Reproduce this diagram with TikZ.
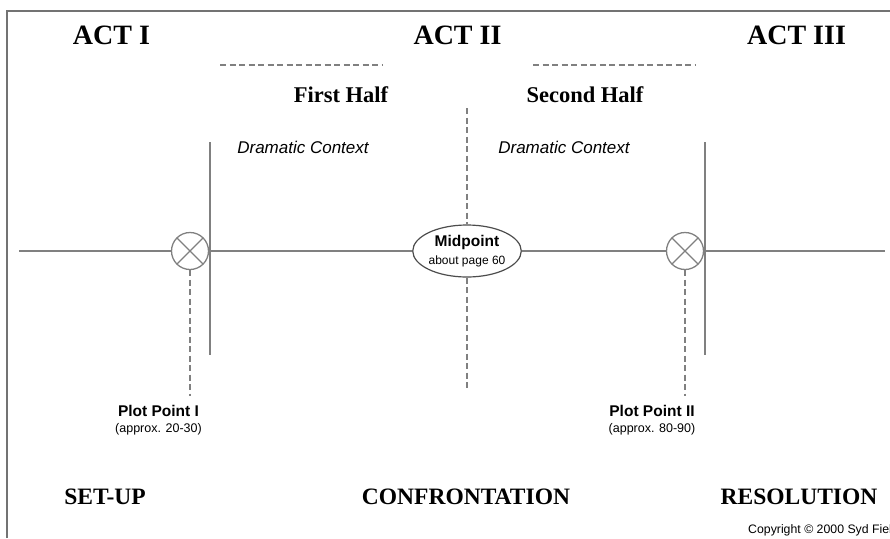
\documentclass[tikz,border=0pt]{standalone}
\usepackage{fontspec}
\setmainfont{Liberation Serif}
\setsansfont{Liberation Sans}
\usetikzlibrary{shapes.geometric,positioning}

\tikzset{
  rule/.style={draw=gray, line width=1.4pt},
  dashline/.style={draw=gray, line width=1.4pt, dash pattern=on 6pt off 3.5pt},
  act/.style={font=\fontsize{28}{30}\selectfont\bfseries},
  part/.style={font=\fontsize{23.5}{26}\selectfont\bfseries},
  half/.style={font=\fontsize{22.5}{25}\selectfont\bfseries},
  context/.style={font=\sffamily\itshape\fontsize{17}{19}\selectfont},
  plotpt/.style={circle, draw=gray, line width=1.3pt, minimum size=37pt, inner sep=0pt, fill=white,
    path picture={\draw[gray, line width=1.3pt]
      (path picture bounding box.north west) -- (path picture bounding box.south east)
      (path picture bounding box.north east) -- (path picture bounding box.south west);}},
  midpt/.style={ellipse, draw=gray!60!black, line width=1.2pt, minimum width=108pt, minimum height=52pt,
    inner sep=0pt, align=center, font=\sffamily\fontsize{15.5}{17}\selectfont},
  pplabel/.style={font=\sffamily\bfseries\fontsize{15.5}{17}\selectfont, inner sep=0pt},
  ppnote/.style={font=\sffamily\fontsize{12.5}{14}\selectfont, inner sep=0pt},
  copynote/.style={font=\sffamily\fontsize{12.3}{14}\selectfont, inner sep=0pt, anchor=west},
}

\begin{document}
\begin{tikzpicture}[x=1pt,y=-1pt]
\useasboundingbox (0,0) rectangle (890,538);
\draw[rule, draw=gray!90!black, line width=1.8pt] (7,538) -- (7,11) -- (890,11); % frame

% act headings
\node[act] (act1) at (111.5,35) {ACT I};
\node[act] (act2) at (457.5,35) {ACT II};
\node[act] (act3) at (796.5,35) {ACT III};

% halves of act II
\coordinate (half1 L) at (220,65);
\coordinate (half1 R) at (382,65);
\coordinate (half2 L) at (533,65);
\coordinate (half2 R) at (695,65);
\draw[dashline, line width=1.2pt] (half1 L) -- (half1 R);
\draw[dashline, line width=1.2pt] (half2 L) -- (half2 R);
\node[half] (half1) at (341,95) {First Half};
\node[half] (half2) at (585,95) {Second Half};
\node[context] (ctx1) at (303,147) {Dramatic Context};
\node[context] (ctx2) at (564,147) {Dramatic Context};

% the paradigm line
\node[plotpt] (pp1) at (190,251) {};
\node[plotpt] (pp2) at (685,251) {};
\node[midpt] (mid) at (467,251) {\bfseries Midpoint\\[1pt]
  {\fontsize{12}{14}\selectfont about page 60}};
\coordinate (line L) at (19,251);
\coordinate (line R) at (885,251);
\draw[rule] (line L) -- (pp1); % act I
\draw[rule] (pp1) -- (mid);
\draw[rule] (mid) -- (pp2);
\draw[rule] (pp2) -- (line R); % act III

% act boundaries
\coordinate (bar1 T) at (210,142);
\coordinate (bar1 B) at (210,355);
\coordinate (bar2 T) at (705,142);
\coordinate (bar2 B) at (705,355);
\draw[rule] (bar1 T) -- (bar1 B);
\draw[rule] (bar2 T) -- (bar2 B);

% midpoint marker
\coordinate (mid T) at (467,108);
\coordinate (mid B) at (467,391);
\draw[dashline] (mid T) -- (mid.north);
\draw[dashline] (mid.south) -- (mid B);

% plot points
\coordinate (pp1 B) at (190,396);
\coordinate (pp2 B) at (685,396);
\draw[dashline] (pp1.south) -- (pp1 B);
\draw[dashline] (pp2.south) -- (pp2 B);
\node[pplabel] (pp1 lab) at (158.5,411) {Plot Point I};
\node[ppnote, below=6pt of pp1 lab] (pp1 note) {(approx. 20-30)};
\node[pplabel] (pp2 lab) at (652,411) {Plot Point II};
\node[ppnote, below=6pt of pp2 lab] (pp2 note) {(approx. 80-90)};

% bottom labels
\node[part] (setup) at (105,497) {SET-UP};
\node[part] (conf) at (466,497) {CONFRONTATION};
\node[part] (resol) at (799,497) {RESOLUTION};
\node[copynote] (copy) at (748,530) {Copyright © 2000 Syd Field};
\end{tikzpicture}
\end{document}
